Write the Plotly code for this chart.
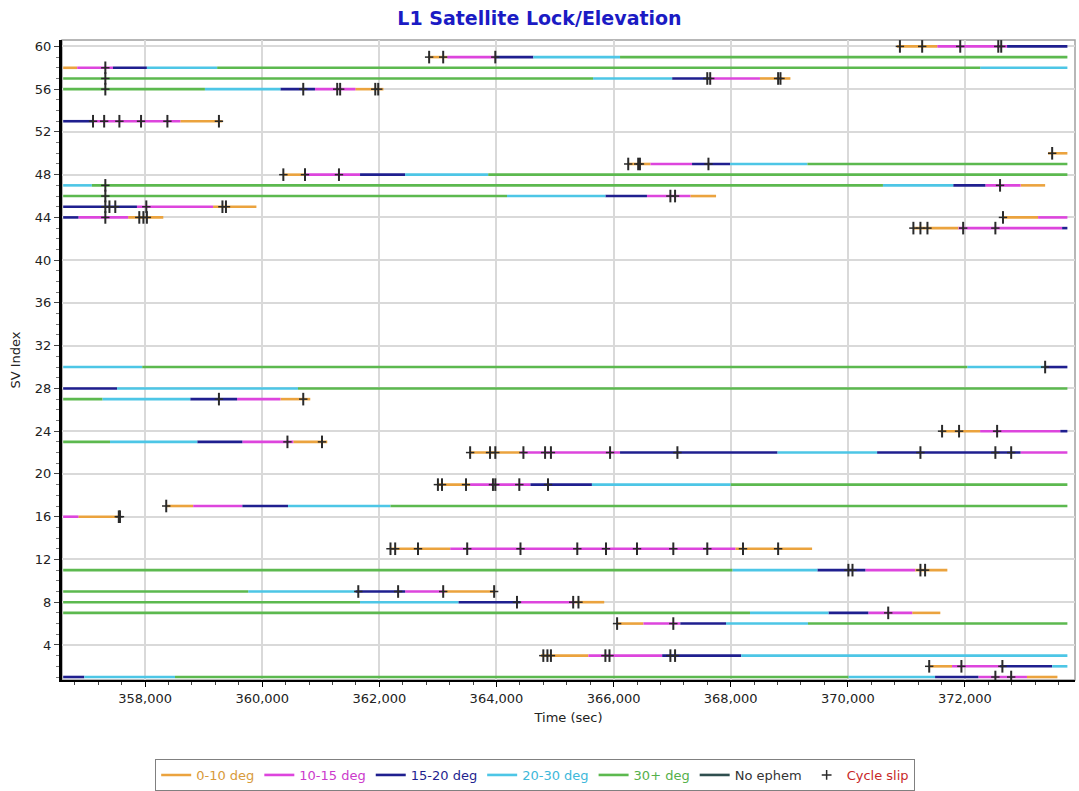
import plotly.graph_objects as go

# ---------------- data ----------------
BAND_NAMES = ["0-10 deg", "10-15 deg", "15-20 deg", "20-30 deg", "30+ deg"]
BAND_COLORS = ["#EBA33E", "#DD45DD", "#1F1F8F", "#4DC6E6", "#5CB94F"]
BAND_TEXT_COLORS = ["#D89A3A", "#CC3ACC", "#1F1F8F", "#3DB8DA", "#55B04A"]
NO_EPHEM_COLOR = "#2F4F4F"
SLIP_COLOR = "#2A2A2A"
SLIP_TEXT_COLOR = "#C82828"

# band codes: 0=0-10, 1=10-15, 2=15-20, 3=20-30, 4=30+, -1 = no data (gap)
sv_ids = [60, 59, 58, 57, 56, 53, 50, 49, 48, 47, 46, 45, 44, 43, 30, 28, 27,
          24, 23, 22, 19, 17, 16, 13, 11, 9, 8, 7, 6, 3, 2, 1]

track_breaks = [
    [370840, 371530, 372720, 373750],                                  # 60
    [362830, 363160, 363980, 364630, 366110, 373750],                  # 59
    [356600, 356840, 357450, 358030, 359230, 372260, 373750],          # 58
    [356600, 365650, 367000, 367650, 368500, 369020],                  # 57
    [356600, 359020, 360310, 360900, 361590, 362070],                  # 56
    [356600, 357110, 358600, 359320],                                  # 53
    [373420, 373750],                                                  # 50
    [366250, 366630, 367340, 367990, 369310, 373750],                  # 49
    [360360, 360730, 361670, 362440, 363860, 373750],                  # 48
    [356600, 357090, 370600, 371800, 372350, 372950, 373370],          # 47
    [356600, 364180, 365860, 366570, 367310, 367750],                  # 46
    [356600, 357860, 359160, 359900],                                  # 45
    [356600, 356860, 357710, 358310, 372650, 373250, 373750],          # 44
    [371120, 371890, 373660, 373750],                                  # 43
    [356600, 357950, 372040, 373370, 373750],                          # 30
    [356600, 357520, 360610, 373750],                                  # 28
    [356600, 357270, 358770, 359570, 360310, 360820],                  # 27
    [371580, 372260, 373630, 373750],                                  # 24
    [356600, 357400, 358890, 359660, 360530, 361110],                  # 23
    [363550, 364410, 366110, 368800, 370500, 372950, 373750],          # 22
    [363000, 363550, 364580, 365630, 368000, 373750],                  # 19
    [358360, 358820, 359660, 360440, 362190, 373750],                  # 17
    [356600, 356860, 357570],                                          # 16
    [362190, 363210, 368080, 369390],                                  # 13
    [356600, 368030, 369480, 370300, 371150, 371700],                  # 11
    [356600, 359760, 361590, 362440, 363120, 363980],                  # 9
    [356600, 361670, 363350, 364410, 365340, 365840],                  # 8
    [356600, 368330, 369670, 370350, 371100, 371580],                  # 7
    [366060, 366510, 367140, 367920, 369320, 373750],                  # 6
    [364760, 365570, 366830, 368180, 373750],                          # 3
    [371390, 371780, 372600, 373490, 373750],                          # 2
    [356600, 356960, 358510, 370010, 371490, 372230, 373060, 373580],  # 1
]

track_bands = [
    [0, 1, 2],
    [0, 1, 2, 3, 4],
    [0, 1, 2, 3, 4, 3],
    [4, 3, 2, 1, 0],
    [4, 3, 2, 1, 0],
    [2, 1, 0],
    [0],
    [0, 1, 2, 3, 4],
    [0, 1, 2, 3, 4],
    [3, 4, 3, 2, 1, 0],
    [4, 3, 2, 1, 0],
    [2, 1, 0],
    [2, 1, 0, -1, 0, 1],
    [0, 1, 2],
    [3, 4, 3, 2],
    [2, 3, 4],
    [4, 3, 2, 1, 0],
    [0, 1, 2],
    [4, 3, 2, 1, 0],
    [0, 1, 2, 3, 2, 1],
    [0, 1, 2, 3, 4],
    [0, 1, 2, 3, 4],
    [1, 0],
    [0, 1, 0],
    [4, 3, 2, 1, 0],
    [4, 3, 2, 1, 0],
    [4, 3, 2, 1, 0],
    [4, 3, 2, 1, 0],
    [0, 1, 2, 3, 4],
    [0, 1, 2, 3],
    [0, 1, 2, 3],
    [2, 3, 4, 3, 2, 1, 0],
]

track_slips = [
    [370890, 371270, 371920, 372570, 372620],
    [362850, 363090, 363980],
    [357320],
    [357320, 367600, 367650, 368810, 368850],
    [357320, 360700, 361280, 361330, 361930, 361980],
    [357110, 357300, 357560, 357930, 358380, 359260],
    [373490],
    [366250, 366420, 366450, 367620],
    [360360, 360730, 361310],
    [357320, 372600],
    [357320, 366970, 367050],
    [357320, 357390, 357490, 358020, 359320, 359380],
    [357320, 357900, 357970, 358030, 372650],
    [371120, 371240, 371360, 371970, 372520],
    [373370],
    [],
    [359260, 360700],
    [371610, 371900, 372550],
    [360430, 361020],
    [363550, 363890, 363980, 364460, 364830, 364930, 365940, 367090,
     371240, 372520, 372790],
    [363000, 363070, 363480, 363940, 363980, 364390, 364880],
    [358360],
    [357550, 357570],
    [362190, 362270, 362660, 363500, 364410, 365380, 365870, 366400,
     367020, 367600, 368210, 368810],
    [370010, 370080, 371240, 371320],
    [361640, 362320, 363090, 363960],
    [364350, 365310, 365400],
    [370690],
    [366060, 367020],
    [364800, 364870, 364930, 365860, 365930, 366970, 367050],
    [371390, 371940, 372640],
    [372520, 372790],
]

X_TICKS = [358000, 360000, 362000, 364000, 366000, 368000, 370000, 372000]
Y_TICKS = list(range(4, 61, 4))

# ---------------- figure ----------------
FONT = "DejaVu Sans"
fig = go.Figure()

for b, name in enumerate(BAND_NAMES):
    xs, ys = [], []
    for sv, brk, bands in zip(sv_ids, track_breaks, track_bands):
        for i, code in enumerate(bands):
            if code == b:
                xs += [brk[i], brk[i + 1], None]
                ys += [sv, sv, None]
    fig.add_trace(go.Scatter(
        x=xs, y=ys, mode="lines",
        line=dict(color=BAND_COLORS[b], width=2.6),
        name=f"<span style='color:{BAND_TEXT_COLORS[b]}'>{name}</span>",
        hoverinfo="skip",
    ))

# No ephem (legend only)
fig.add_trace(go.Scatter(
    x=[None], y=[None], mode="lines",
    line=dict(color=NO_EPHEM_COLOR, width=2.6),
    name="<span style='color:#333333'>No ephem</span>",
))

sx, sy = [], []
for sv, slips in zip(sv_ids, track_slips):
    for t in slips:
        sx.append(t)
        sy.append(sv)

fig.add_trace(go.Scatter(
    x=sx, y=sy, mode="markers", showlegend=False, hoverinfo="skip",
    marker=dict(symbol="line-ns", size=9,
                line=dict(color=SLIP_COLOR, width=2)),
))
fig.add_trace(go.Scatter(
    x=sx, y=sy, mode="markers", showlegend=False, hoverinfo="skip",
    marker=dict(symbol="line-ew", size=6,
                line=dict(color=SLIP_COLOR, width=1.5)),
))
fig.add_trace(go.Scatter(
    x=[None], y=[None], mode="markers",
    marker=dict(symbol="cross-thin", size=7,
                line=dict(color=SLIP_COLOR, width=1.5)),
    name=f"<span style='color:{SLIP_TEXT_COLOR}'>Cycle slip</span>",
))

fig.add_shape(type="rect", xref="paper", yref="paper", x0=0, x1=1, y0=0, y1=1,
              line=dict(color="#A0A0A0", width=1.5), layer="below")

fig.update_layout(
    width=1079, height=791,
    margin=dict(l=62, r=4, t=40, b=111),
    paper_bgcolor="white", plot_bgcolor="white",
    font=dict(family=FONT, size=13, color="#222222"),
    title=dict(text="<b>L1 Satellite Lock/Elevation</b>", x=0.5, xanchor="center",
               y=1 - 18 / 791, yanchor="middle",
               font=dict(family=FONT, size=19, color="#1B1BC4")),
    xaxis=dict(
        range=[356580, 373880], tickvals=X_TICKS, tickformat=",d",
        showgrid=True, gridcolor="#D9D9D9", gridwidth=1.5,
        showline=True, linecolor="black", linewidth=2, zeroline=False,
        ticks="outside", ticklen=5, tickcolor="black",
        minor=dict(dtick=400, tick0=358000, ticks="outside", ticklen=3,
                   tickcolor="#444444", showgrid=False),
        title=dict(text="Time (sec)", standoff=8, font=dict(size=13)),
        tickfont=dict(size=13),
    ),
    yaxis=dict(
        range=[0.72, 60.6], tickvals=Y_TICKS,
        showgrid=True, gridcolor="#D9D9D9", gridwidth=1.5,
        showline=True, linecolor="black", linewidth=3, zeroline=False,
        ticks="outside", ticklen=5, tickcolor="#444444",
        minor=dict(dtick=1, tick0=0, ticks="outside", ticklen=3,
                   tickcolor="#777777", showgrid=False),
        title=dict(text="SV Index", standoff=12, font=dict(size=13)),
        tickfont=dict(size=13),
    ),
    legend=dict(
        orientation="h", xref="container", yref="container",
        x=0.496, xanchor="center", y=1 - 759 / 791, yanchor="top",
        bordercolor="#808080", borderwidth=1, bgcolor="white",
        font=dict(family=FONT, size=13), itemwidth=30,
    ),
    showlegend=True,
)

fig.write_html("out.html", config={"displayModeBar": False})
with open("out.html", "r", encoding="utf-8") as fh:
    html = fh.read()
html = html.replace("<head>", "<head><style>html,body{margin:0;padding:0;overflow:hidden;}</style>", 1)
with open("out.html", "w", encoding="utf-8") as fh:
    fh.write(html)
